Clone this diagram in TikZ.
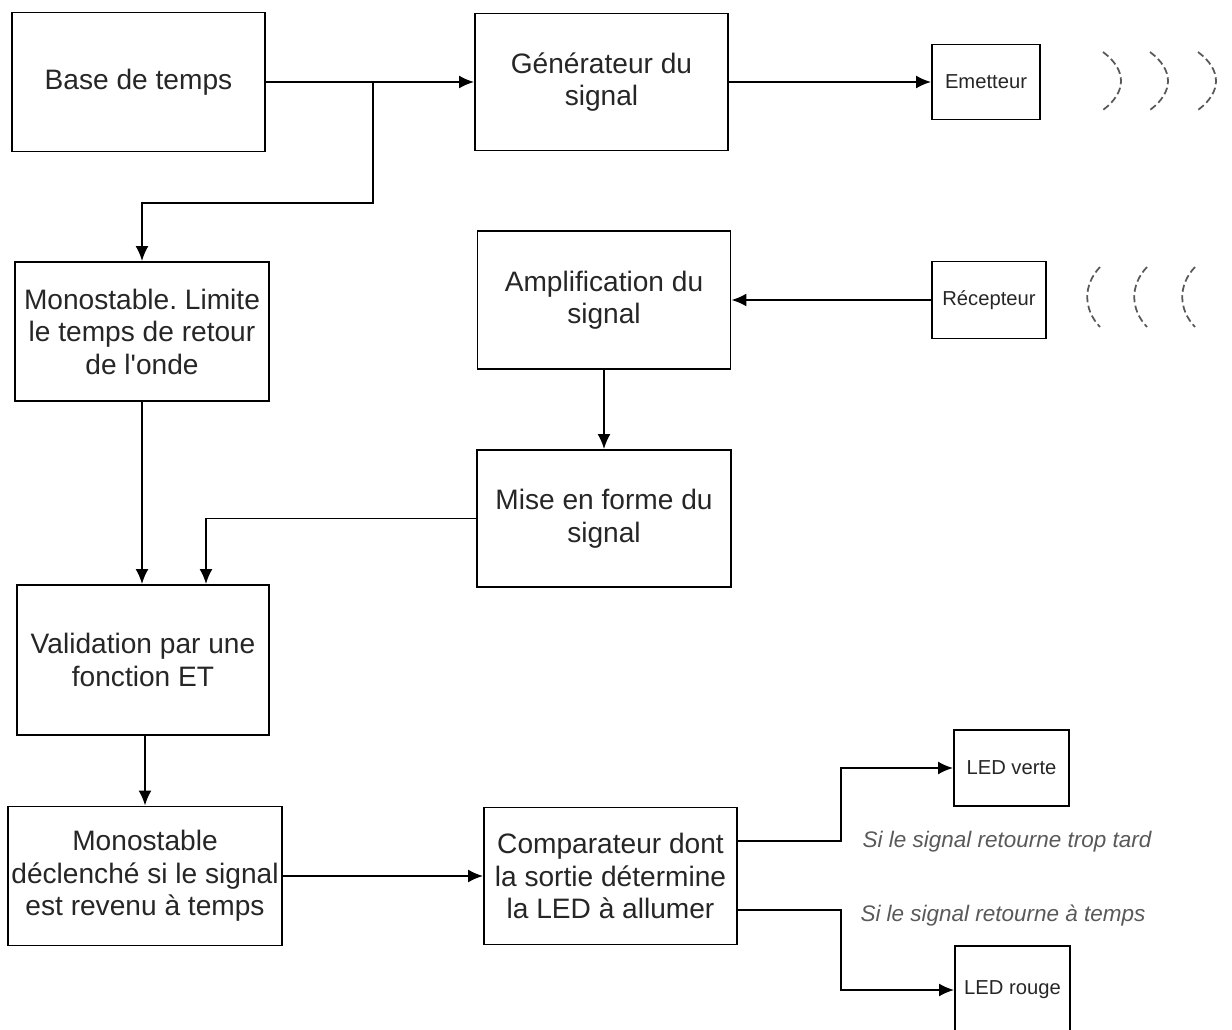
\documentclass[tikz,border=0pt]{standalone}
\usepackage{fontspec}
\setmainfont{Liberation Sans}
\usetikzlibrary{arrows.meta,positioning}
\frenchspacing

\begin{document}
\begin{tikzpicture}[
    x=0.02cm, y=-0.02cm,
    box/.style={rectangle, draw, line width=1.1pt, align=center, inner sep=2pt,
                font=\fontsize{16}{18.5}\selectfont, text=black!85},
    smallbox/.style={box, font=\fontsize{11.5}{14}\selectfont},
    note/.style={font=\fontsize{12.8}{14}\selectfont\itshape, text=black!65},
    arrow/.style={-{Latex[length=3mm,width=2.6mm]}, line width=1.1pt},
    wave/.style={black!65, line width=1pt, dash pattern=on 4pt off 2pt}
  ]
    \useasboundingbox (0,0) rectangle (1232,1030);

    \node[box, minimum width=5.06cm, minimum height=2.78cm] (base) at (138.5,82) {Base de temps};
    \node[box, minimum width=5.06cm, minimum height=2.74cm] (gen) at (601.5,82) {Générateur du\\signal};
    \node[smallbox, minimum width=2.16cm, minimum height=1.5cm] (emet) at (986,82) {Emetteur};
    \node[box, minimum width=5.08cm, minimum height=2.78cm] (mono) at (142,331.5) {Monostable. Limite\\le temps de retour\\de l\textquotesingle onde};
    \node[box, minimum width=5.06cm, minimum height=2.76cm] (ampli) at (604,300) {Amplification du\\signal};
    \node[smallbox, minimum width=2.28cm, minimum height=1.54cm] (recep) at (989,300) {Récepteur};
    \node[box, minimum width=5.08cm, minimum height=2.74cm] (forme) at (604,518.5) {Mise en forme du\\signal};
    \node[box, minimum width=5.04cm, minimum height=3.0cm] (valid) at (143,660) {Validation par une\\fonction ET};
    \node[box, minimum width=5.46cm, minimum height=2.78cm] (monod) at (145,876) {Monostable\\déclenché si le signal\\est revenu à temps};
    \node[box, minimum width=5.06cm, minimum height=2.74cm] (comp) at (610.5,876) {Comparateur dont\\la sortie détermine\\la LED à allumer};
    \node[smallbox, minimum width=2.3cm, minimum height=1.52cm] (verte) at (1011.5,768) {LED verte};
    \node[smallbox, minimum width=2.3cm, minimum height=1.76cm] (rouge) at (1012.5,990) {LED rouge};

    \node[note] (trop) at (1007,842) {Si le signal retourne trop tard};
    \node[note] (atemps) at (1003,916) {Si le signal retourne à temps};

    % liaisons
    \coordinate (split) at (373,82);
    \draw[arrow] (base) -- (gen);
    \draw[arrow] (split) -- ++(0,121) -| (mono);
    \draw[arrow] (gen) -- (emet);
    \draw[arrow] (recep) -- (ampli);
    \draw[arrow] (ampli) -- (forme);
    \draw[arrow] (mono) -- (mono |- valid.north);
    \draw[arrow] (forme.west) -| ([xshift=1.26cm]valid.north);
    \draw[arrow] (valid.south -| monod.north) -- (monod.north);
    \draw[arrow] (monod) -- (comp);
    \draw[arrow] ([yshift=0.7cm]comp.east) -- ++(103,0) |- (verte);
    \draw[arrow] ([yshift=-0.68cm]comp.east) -- ++(103,0) |- (rouge);

    % ondes
    \foreach \x in {1103,1150,1198}
      \draw[wave] (\x,52) .. controls (\x+24,70) and (\x+24,92) .. (\x,110);
    \foreach \x in {1100,1147,1195}
      \draw[wave] (\x,267) .. controls (\x-17,285) and (\x-17,309) .. (\x,327);
\end{tikzpicture}
\end{document}
